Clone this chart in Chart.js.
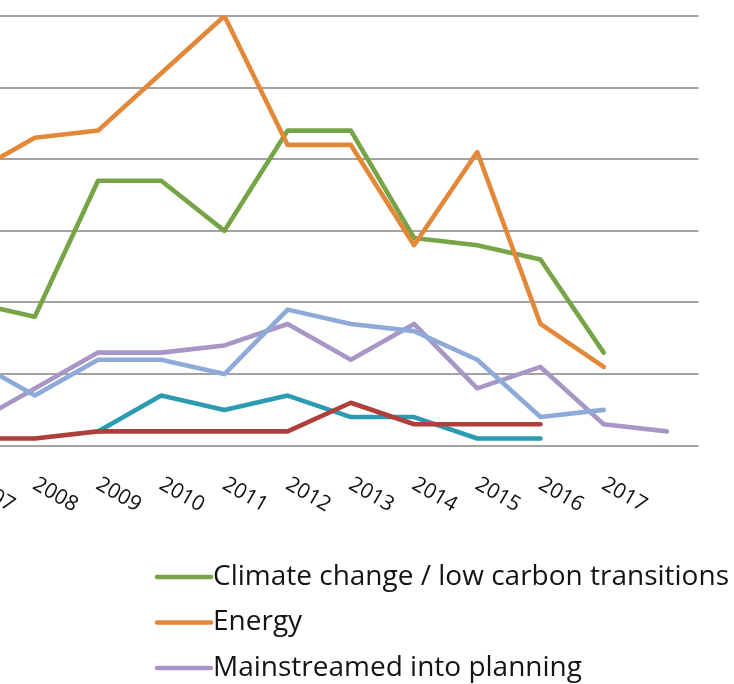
<!DOCTYPE html>
<html>
<head>
<meta charset="utf-8">
<script src="https://cdn.jsdelivr.net/npm/chart.js@4/dist/chart.umd.min.js"></script>
<style>
  html, body { margin: 0; padding: 0; background: #ffffff; overflow: hidden; }
  body { width: 734px; height: 684px; position: relative; }
  #wrap { position: absolute; left: -66px; top: 0; width: 800px; height: 684px; }
</style>
</head>
<body>
<div id="wrap"><canvas id="chart" width="800" height="684"></canvas></div>
<script>
// Years on the category axis (the final slot carries no label)
const categories = ['2007', '2008', '2009', '2010', '2011', '2012', '2013', '2014', '2015', '2016', '2017', ''];

// Series values per year
const climateChange = [20, 18, 37, 37, 30, 44, 44, 29, 28, 26, 13, null];
const energy        = [38, 43, 44, 52, 60, 42, 42, 28, 41, 17, 11, null];
const mainstreamed  = [3, 8, 13, 13, 14, 17, 12, 17, 8, 11, 3, 2];
const seriesFour    = [12, 7, 12, 12, 10, 19, 17, 16, 12, 4, 5, null];
const seriesFive    = [null, null, 2, 7, 5, 7, 4, 4, 1, 1, null, null];
const seriesSix     = [1, 1, 2, 2, 2, 2, 6, 3, 3, 3, null, null];

const seriesNames = [
  'Climate change / low carbon transitions',
  'Energy',
  'Mainstreamed into planning',
  'Series 4',
  'Series 5',
  'Series 6'
];

// Value axis ticks
const yTicks = [0, 10, 20, 30, 40, 50, 60];

const colors = ['#77a446', '#e38838', '#a897c6', '#8eaad9', '#2c9bb1', '#ae3f3b'];
const values = [climateChange, energy, mainstreamed, seriesFour, seriesFive, seriesSix];

const datasets = values.map((v, i) => ({
  label: seriesNames[i],
  data: v,
  borderColor: colors[i],
  backgroundColor: colors[i],
  borderWidth: 4.6,
  pointRadius: 0,
  tension: 0,
  fill: false,
  spanGaps: false,
  borderJoinStyle: 'round',
  borderCapStyle: 'round',
  order: values.length - i
}));

// Rotated year labels, drawn under each category position
const yearLabels = {
  id: 'yearLabels',
  afterDraw(chart) {
    const { ctx, chartArea, scales } = chart;
    ctx.save();
    ctx.fillStyle = '#111111';
    ctx.font = '21px "Open Sans"';
    ctx.textAlign = 'left';
    ctx.textBaseline = 'top';
    categories.forEach((c, i) => {
      if (!c) return;
      const x = scales.x.getPixelForValue(i);
      ctx.save();
      ctx.translate(x + 5, chartArea.bottom + 28);
      ctx.rotate(30 * Math.PI / 180);
      ctx.fillText(c, 0, 0);
      ctx.restore();
    });
    ctx.restore();
  }
};

// Vertical legend list below the plot
const listLegend = {
  id: 'listLegend',
  afterDraw(chart) {
    const { ctx } = chart;
    const x0 = 223, lineLen = 54, top = 577, step = 45.5;
    ctx.save();
    ctx.font = '28px "Open Sans"';
    ctx.textAlign = 'left';
    ctx.textBaseline = 'middle';
    chart.data.datasets.forEach((ds, i) => {
      const y = top + i * step;
      ctx.strokeStyle = ds.borderColor;
      ctx.lineWidth = 4.6;
      ctx.lineCap = 'round';
      ctx.beginPath();
      ctx.moveTo(x0, y);
      ctx.lineTo(x0 + lineLen, y);
      ctx.stroke();
      ctx.fillStyle = '#141414';
      ctx.fillText(ds.label, x0 + lineLen + 2, y);
    });
    ctx.restore();
  }
};

new Chart(document.getElementById('chart'), {
  type: 'line',
  data: { labels: categories, datasets },
  options: {
    responsive: false,
    animation: false,
    layout: { padding: { left: 6, right: 35.5, top: 16, bottom: 238.3 } },
    plugins: { legend: { display: false }, tooltip: { enabled: false } },
    scales: {
      x: {
        offset: true,
        grid: { display: false, drawTicks: false },
        border: { display: false },
        ticks: { display: false }
      },
      y: {
        min: yTicks[0],
        max: yTicks[yTicks.length - 1],
        afterBuildTicks(scale) { scale.ticks = yTicks.map(v => ({ value: v })); },
        grid: { color: '#a3a3a3', lineWidth: 2, drawTicks: false },
        border: { display: false },
        ticks: { display: false }
      }
    }
  },
  plugins: [yearLabels, listLegend]
});
</script>
</body>
</html>
